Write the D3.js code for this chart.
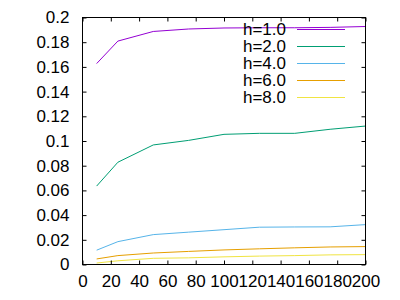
<!DOCTYPE html>
<html><head><meta charset="utf-8">
<script src="https://cdn.jsdelivr.net/npm/d3@7"></script>
<style>body{margin:0;background:#fff}svg{display:block}text{font-family:"Liberation Sans",Arial,sans-serif;font-size:17px;fill:#000}</style>
</head><body><svg id="c" width="400" height="300"></svg>
<script>
const xs = [10, 25, 50, 75, 100, 125, 150, 175, 200];
const labels = ["h=1.0", "h=2.0", "h=4.0", "h=6.0", "h=8.0"];
const colors = ["#9400d3", "#009e73", "#56b4e9", "#e69f00", "#f0e442"];
const h1 = [0.1627, 0.1809, 0.1887, 0.1907, 0.1915, 0.1917, 0.1917, 0.1920, 0.1927];
const h2 = [0.0635, 0.0828, 0.0968, 0.1005, 0.1054, 0.1062, 0.1062, 0.1095, 0.1121];
const h4 = [0.0116, 0.0185, 0.0242, 0.0262, 0.0282, 0.0302, 0.0304, 0.0305, 0.0323];
const h6 = [0.0045, 0.0072, 0.0093, 0.0106, 0.0118, 0.0127, 0.0135, 0.0142, 0.0145];
const h8 = [0.0012, 0.0030, 0.0050, 0.0054, 0.0062, 0.0068, 0.0072, 0.0078, 0.0080];
const series = [h1, h2, h4, h6, h8];
const xTicks = d3.range(0, 201, 20);
const yTicks = d3.range(0, 0.2001, 0.02);

const svg = d3.select("#c");
const x = d3.scaleLinear().domain([0, 200]).range([82.5, 365.5]);
const y = d3.scaleLinear().domain([0, 0.2]).range([264.5, 17.5]);

const line = d3.line().x((d, i) => x(xs[i])).y(d => y(d));
series.forEach((s, k) => {
  svg.append("path").datum(s).attr("d", line).attr("fill", "none")
    .attr("stroke", colors[k]).attr("stroke-width", 1);
});

const tl = 4;
svg.append("g").attr("transform", `translate(0,${y(0)})`)
  .call(d3.axisBottom(x).tickValues(xTicks).tickSize(-tl).tickPadding(10).tickFormat(d3.format("d")))
  .call(g => { g.select(".domain").remove(); g.selectAll("text").attr("font-size", 17).attr("font-family", null).attr("dy", "0.71em"); });
svg.append("g").attr("transform", `translate(0,${y(0.2)})`)
  .call(d3.axisTop(x).tickValues(xTicks).tickSize(-tl).tickFormat(""))
  .call(g => g.select(".domain").remove());
svg.append("g").attr("transform", `translate(${x(0)},0)`)
  .call(d3.axisLeft(y).tickValues(yTicks).tickSize(-tl).tickPadding(13).tickFormat(d => d === 0 ? "0" : d3.format(".2~f")(d)))
  .call(g => { g.select(".domain").remove(); g.selectAll("text").attr("font-size", 17).attr("font-family", null); });
svg.append("g").attr("transform", `translate(${x(200)},0)`)
  .call(d3.axisRight(y).tickValues(yTicks).tickSize(-tl).tickFormat(""))
  .call(g => g.select(".domain").remove());
svg.selectAll(".tick line").attr("stroke", "#000");

svg.append("rect").attr("x", x(0)).attr("y", y(0.2))
  .attr("width", x(200) - x(0)).attr("height", y(0) - y(0.2))
  .attr("fill", "none").attr("stroke", "#000").attr("stroke-width", 1);

const lg = svg.append("g");
labels.forEach((l, k) => {
  const ry = 29.5 + k * 17;
  lg.append("text").attr("x", 286).attr("y", ry).attr("dy", "0.35em").attr("text-anchor", "end").text(l);
  lg.append("line").attr("x1", 297).attr("x2", 345).attr("y1", ry).attr("y2", ry)
    .attr("stroke", colors[k]).attr("stroke-width", 1);
});
</script></body></html>
